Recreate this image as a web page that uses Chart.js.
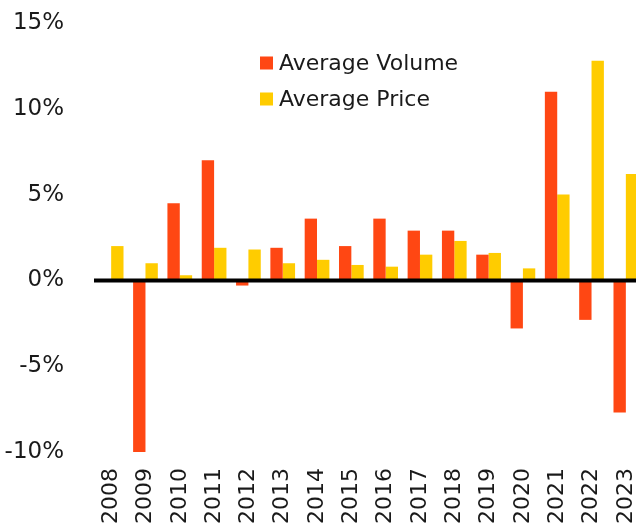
<!DOCTYPE html>
<html>
<head>
<meta charset="utf-8">
<script src="https://cdn.jsdelivr.net/npm/chart.js@4/dist/chart.umd.min.js"></script>
<style>
  html, body { margin: 0; padding: 0; background: #fff; overflow: hidden; }
  #wrap { position: relative; width: 643px; height: 526px; }
</style>
</head>
<body>
<div id="wrap"><canvas id="chart"></canvas></div>
<script>
// ── data ──
const years = ['2008', '2009', '2010', '2011', '2012', '2013', '2014', '2015',
               '2016', '2017', '2018', '2019', '2020', '2021', '2022', '2023'];
const avgVolume = [null, -10.0, 4.5, 7.0, -0.3, 1.9, 3.6, 2.0,
                   3.6, 2.9, 2.9, 1.5, -2.8, 11.0, -2.3, -7.7];
const avgPrice  = [2.0, 1.0, 0.3, 1.9, 1.8, 1.0, 1.2, 0.9,
                   0.8, 1.5, 2.3, 1.6, 0.7, 5.0, 12.8, 6.2];
const yTicks = [-10, -5, 0, 5, 10, 15];

const RED = '#FF4713';
const YELLOW = '#FFCC00';
const INK = '#1a1a1a';
const FONT = "'DejaVu Sans', sans-serif";

// zero line on top of the bars
const zeroLine = {
  id: 'zeroLine',
  afterDatasetsDraw(chart) {
    const { ctx, chartArea } = chart;
    const y = chart.scales.y.getPixelForValue(0);
    ctx.save();
    ctx.strokeStyle = '#000';
    ctx.lineWidth = 4;
    ctx.beginPath();
    ctx.moveTo(chartArea.left, y);
    ctx.lineTo(chartArea.right, y);
    ctx.stroke();
    ctx.restore();
  }
};

// legend stacked inside the plot
const insideLegend = {
  id: 'insideLegend',
  afterDraw(chart) {
    const { ctx } = chart;
    ctx.save();
    ctx.font = '22px ' + FONT;
    ctx.textBaseline = 'middle';
    chart.data.datasets.forEach((ds, i) => {
      const cy = 63 + i * 36;
      ctx.fillStyle = ds.backgroundColor;
      ctx.fillRect(260, cy - 6.5, 13, 13);
      ctx.fillStyle = INK;
      ctx.fillText(ds.label, 279, cy + 1);
    });
    ctx.restore();
  }
};

new Chart(document.getElementById('chart'), {
  type: 'bar',
  data: {
    labels: years,
    datasets: [
      { label: 'Average Volume', data: avgVolume, backgroundColor: RED },
      { label: 'Average Price', data: avgPrice, backgroundColor: YELLOW }
    ]
  },
  options: {
    responsive: true,
    maintainAspectRatio: false,
    animation: false,
    categoryPercentage: 0.72,
    barPercentage: 1.0,
    layout: { padding: 0 },
    scales: {
      x: {
        grid: { display: false },
        border: { display: false },
        ticks: {
          color: INK,
          font: { family: FONT, size: 22 },
          maxRotation: 90,
          minRotation: 90,
          padding: 8,
          autoSkip: false
        },
        afterFit(s) {
          s.height = 74;
          s.paddingLeft = 0;
          s.paddingRight = 0;
        }
      },
      y: {
        min: -10,
        max: 15,
        afterBuildTicks(s) { s.ticks = yTicks.map(v => ({ value: v })); },
        grid: { display: false },
        border: { display: false },
        ticks: {
          color: INK,
          font: { family: FONT, size: 23 },
          padding: 22,
          callback: v => v + '%'
        },
        afterFit(s) {
          s.width = 94;
          s.paddingTop = 23;
          s.paddingBottom = 0;
        }
      }
    },
    plugins: {
      legend: { display: false },
      tooltip: { enabled: false }
    }
  },
  plugins: [zeroLine, insideLegend]
});
</script>
</body>
</html>
